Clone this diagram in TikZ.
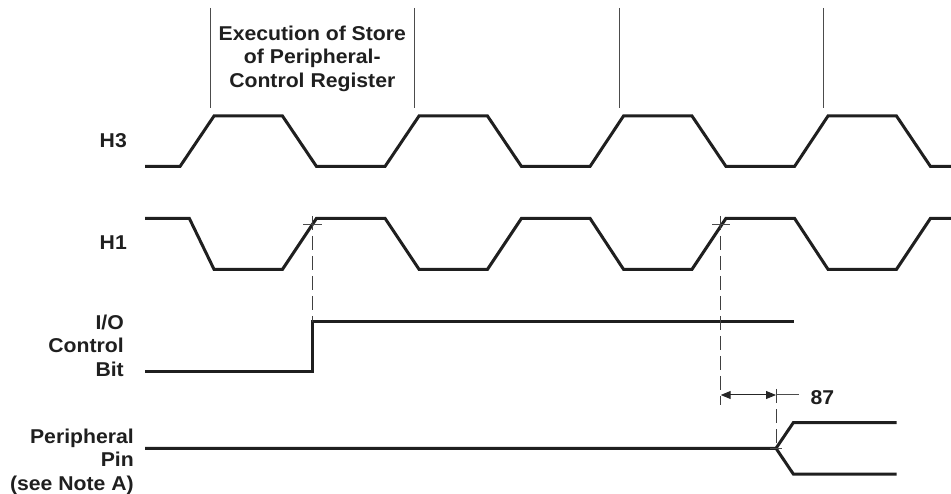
\documentclass[tikz,border=0pt]{standalone}
\usepackage{fontspec}
\setmainfont[FakeStretch=1.06]{Liberation Sans}
\usetikzlibrary{arrows.meta}
\begin{document}
\begin{tikzpicture}[x=1pt,y=-1pt,
  wave/.style={line width=3pt, draw=black!88},
  thin/.style={line width=1pt, draw=black!70},
  dashline/.style={line width=0.9pt, draw=black!75, dash pattern=on 14pt off 6pt},
  lbl/.style={font=\bfseries\fontsize{20}{23.5}\selectfont, inner sep=0pt, text=black!88},
  dim/.style={line width=1pt, draw=black!85, {Triangle[length=10pt,width=8pt]}-{Triangle[length=10pt,width=8pt]}}
]
\useasboundingbox (0,0) rectangle (951,494);

% vertical boundary lines
\foreach \x [count=\i] in {210,414.5,619,823.5}
  \draw[thin] (\x,8) -- (\x,108);

% labels
\node[lbl, align=center, anchor=north] (exec) at (312.3,25.5) {Execution of Store\\of Peripheral-\\Control Register};
\node[lbl, anchor=base west] (h3) at (99.5,147.3) {H3};
\node[lbl, anchor=base west] (h1) at (99.5,249.3) {H1};
\node[lbl, align=right, anchor=north east] (io) at (124,314.5) {I/O\\Control\\Bit};
\node[lbl, align=right, anchor=north east] (pp) at (134,428.5) {Peripheral\\Pin\\(see Note A)};
\node[lbl, anchor=base west] (t87) at (810.5,405) {87};

% H3
\draw[wave] (145,166.5) -- (180,166.5) -- (214,116) -- (282.5,116) -- (316.5,166.5) -- (385,166.5) -- (419,116) -- (487.5,116) -- (521.5,166.5) -- (590,166.5) -- (623.5,116) -- (692,116) -- (726,166.5) -- (794.5,166.5) -- (828,116) -- (896.5,116) -- (930.5,166.5) -- (951,166.5);

% H1
\draw[wave] (145,218.3) -- (189.3,218.3) -- (214,269.3) -- (282.5,269.3) -- (316.5,218.3) -- (385,218.3) -- (419,269.3) -- (487.5,269.3) -- (521.5,218.3) -- (590,218.3) -- (623.5,269.3) -- (692,269.3) -- (726,218.3) -- (794.5,218.3) -- (828,269.3) -- (896.5,269.3) -- (930.5,218.3) -- (951,218.3);

% I/O control bit
\coordinate (ioStep) at (312.3,321.7);
\draw[wave] (145,371.7) -- (312.3,371.7) -- (ioStep) -- (794.3,321.7);

% Peripheral pin
\coordinate (split) at (776,448.3);
\draw[wave] (145,448.3) -- (split) -- (793.3,422.7) -- (896.7,422.7);
\draw[wave] (split) -- (793.3,474) -- (896.7,474);

% reference marks and dashed lines
\coordinate (m1) at (312.3,225);
\coordinate (m2) at (720.7,225);
\coordinate (d1top) at (312.3,216);
\coordinate (d2top) at (720.7,216);
\coordinate (d2bot) at (720.7,405);
\coordinate (d3top) at (776,389);
\draw[thin] (303,225) -- (321.5,225);
\draw[thin] (712,225) -- (729.5,225);
\draw[thin] (770,448.3) -- (782,448.3);
\draw[dashline] (d1top) -- (ioStep);
\draw[dashline] (d2top) -- (d2bot);
\draw[dashline] (d3top) -- (split);

% dimension 87
\coordinate (a1) at (720.7,395);
\coordinate (a2) at (776,395);
\coordinate (lead) at (799,395);
\draw[dim] (a1) -- (a2);
\draw[thin] (a2) -- (lead);
\end{tikzpicture}
\end{document}
